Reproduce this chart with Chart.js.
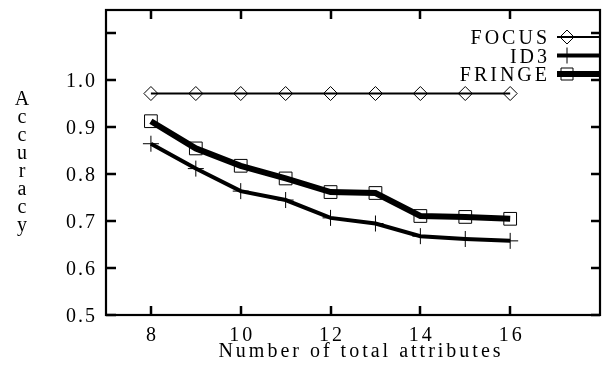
<!DOCTYPE html>
<html>
<head>
<meta charset="utf-8">
<script src="https://cdn.jsdelivr.net/npm/chart.js@4.4.0/dist/chart.umd.min.js"></script>
<style>
  html, body { margin: 0; padding: 0; background: #fff; }
  #wrap { width: 610px; height: 366px; }
</style>
</head>
<body>
<div id="wrap"><canvas id="chart" width="610" height="366"></canvas></div>
<script>
// values
const attributes = [8, 9, 10, 11, 12, 13, 14, 15, 16];
const focusAcc  = [0.972, 0.972, 0.972, 0.972, 0.972, 0.972, 0.972, 0.972, 0.972];
const id3Acc    = [0.865, 0.812, 0.764, 0.745, 0.707, 0.695, 0.668, 0.662, 0.658];
const fringeAcc = [0.913, 0.855, 0.818, 0.791, 0.762, 0.760, 0.711, 0.709, 0.705];

const xTicks = [8, 10, 12, 14, 16];
const yTicks = [0.5, 0.6, 0.7, 0.8, 0.9, 1.0, 1.1];
const yTickLabels = ['0.5', '0.6', '0.7', '0.8', '0.9', '1.0', ''];
const xTitle = 'Number of total attributes';
const yTitle = 'Accuracy';

const FONT = '20px "Liberation Serif", "Times New Roman", serif';

function toPoints(values) {
    return attributes.map((x, i) => ({ x: x, y: values[i] }));
}

function legendMarker(ctx, style, x, y) {
    ctx.save();
    ctx.strokeStyle = '#000';
    ctx.lineWidth = 1;
    ctx.beginPath();
    if (style === 'rectRot') {
        ctx.moveTo(x, y - 7); ctx.lineTo(x + 7, y); ctx.lineTo(x, y + 7); ctx.lineTo(x - 7, y); ctx.closePath();
    } else if (style === 'cross') {
        ctx.moveTo(x, y - 8); ctx.lineTo(x, y + 8); ctx.moveTo(x - 7, y); ctx.lineTo(x + 7, y);
    } else {
        ctx.rect(x - 6, y - 6, 12, 12);
    }
    ctx.stroke();
    ctx.restore();
}

// gnuplot style frame, inward ticks, labels and key
const gnuplotFrame = {
    id: 'gnuplotFrame',
    afterDatasetsDraw(chart) {
        const ctx = chart.ctx;
        const a = chart.chartArea;
        const xs = chart.scales.x;
        const ys = chart.scales.y;

        ctx.save();
        ctx.strokeStyle = '#000';
        ctx.lineWidth = 2.2;
        ctx.strokeRect(a.left, a.top, a.right - a.left, a.bottom - a.top);

        ctx.lineWidth = 2.5;
        ctx.beginPath();
        xTicks.forEach(v => {
            const px = Math.round(xs.getPixelForValue(v));
            ctx.moveTo(px, a.bottom); ctx.lineTo(px, a.bottom - 9);
            ctx.moveTo(px, a.top); ctx.lineTo(px, a.top + 9);
        });
        yTicks.forEach(v => {
            const py = Math.round(ys.getPixelForValue(v));
            ctx.moveTo(a.left, py); ctx.lineTo(a.left + 10, py);
            ctx.moveTo(a.right, py); ctx.lineTo(a.right - 9, py);
        });
        ctx.stroke();

        ctx.fillStyle = '#000';
        ctx.font = FONT;
        ctx.letterSpacing = '3px';
        ctx.textBaseline = 'alphabetic';

        ctx.textAlign = 'center';
        xTicks.forEach(v => {
            ctx.fillText(String(v), xs.getPixelForValue(v) + 1.5, 341);
        });
        ctx.fillText(xTitle, 361, 357);

        ctx.textAlign = 'right';
        ctx.letterSpacing = '2px';
        yTicks.forEach((v, i) => {
            ctx.fillText(yTickLabels[i], 97, ys.getPixelForValue(v) + 7);
        });

        ctx.letterSpacing = '0px';
        ctx.textAlign = 'center';
        yTitle.split('').forEach((ch, i) => {
            ctx.fillText(ch, 22, 105 + i * 18);
        });

        // key
        ctx.letterSpacing = '3px';
        ctx.textAlign = 'right';
        const rows = [37, 55.5, 74];
        chart.data.datasets.forEach((ds, i) => {
            const y = rows[i];
            ctx.fillText(ds.label, 550, y + 7);
            ctx.lineWidth = ds.borderWidth;
            ctx.beginPath();
            ctx.moveTo(557, y); ctx.lineTo(601, y);
            ctx.stroke();
            legendMarker(ctx, ds.pointStyle, 567, y);
        });
        ctx.restore();
    }
};

const chart = new Chart(document.getElementById('chart').getContext('2d'), {
    type: 'line',
    data: {
        datasets: [{
            label: 'FOCUS',
            data: toPoints(focusAcc),
            borderColor: '#000',
            borderWidth: 2,
            pointStyle: 'rectRot',
            pointRadius: 7,
            pointBorderWidth: 1,
            pointBorderColor: '#000',
            pointBackgroundColor: 'rgba(0,0,0,0)',
            tension: 0
        }, {
            label: 'ID3',
            data: toPoints(id3Acc),
            borderColor: '#000',
            borderWidth: 4,
            pointStyle: 'cross',
            pointRadius: 8,
            pointBorderWidth: 1,
            pointBorderColor: '#000',
            tension: 0
        }, {
            label: 'FRINGE',
            data: toPoints(fringeAcc),
            borderColor: '#000',
            borderWidth: 6,
            pointStyle: 'rect',
            pointRadius: 9,
            pointBorderWidth: 1,
            pointBorderColor: '#000',
            pointBackgroundColor: 'rgba(0,0,0,0)',
            tension: 0
        }]
    },
    options: {
        responsive: false,
        animation: false,
        events: [],
        layout: { padding: { left: 106, right: 7, top: 9, bottom: 51 } },
        scales: {
            x: { type: 'linear', min: 7, max: 18, display: false },
            y: { type: 'linear', min: 0.5, max: 1.15, display: false }
        },
        plugins: {
            legend: { display: false },
            tooltip: { enabled: false }
        }
    },
    plugins: [gnuplotFrame]
});
</script>
</body>
</html>
